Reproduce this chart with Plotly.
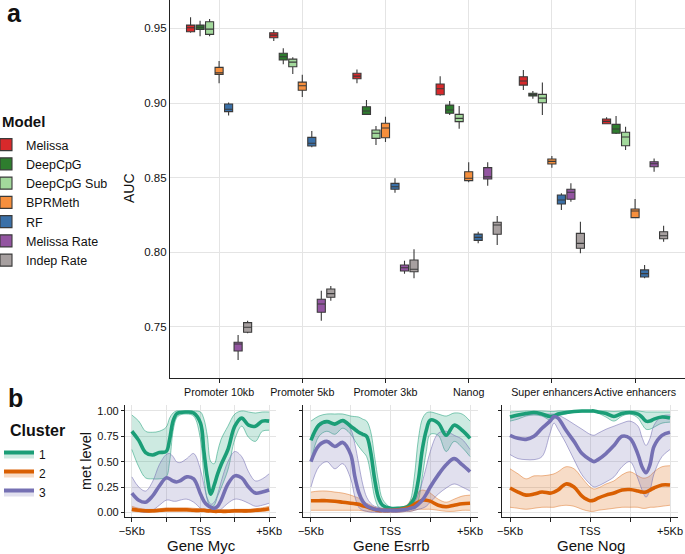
import plotly.graph_objects as go

W, H = 685, 554
FONT = "Liberation Sans, Arial, sans-serif"

# ---------------- panel a : AUC box plots ----------------
CATEGORIES = ["Promoter 10kb", "Promoter 5kb", "Promoter 3kb", "Nanog",
              "Super enhancers", "Active enhancers"]
MODELS = ["Melissa", "DeepCpG", "DeepCpG Sub", "BPRMeth", "RF",
          "Melissa Rate", "Indep Rate"]
MODEL_COLORS = ["#d8292b", "#2e7d2e", "#a3d99c", "#f68f3d", "#3a70a8",
                "#9355a1", "#a7a0a0"]
AUC_TICKS = [0.75, 0.80, 0.85, 0.90, 0.95]

# per category: (lower whisker, q1, median, q3, upper whisker)
MELISSA = [(0.9470, 0.9477, 0.9504, 0.9522, 0.9574),
           (0.9415, 0.9437, 0.9455, 0.9471, 0.9489),
           (0.9132, 0.9163, 0.9180, 0.9199, 0.9225),
           (0.9049, 0.9055, 0.9096, 0.9127, 0.9180),
           (0.9087, 0.9120, 0.9147, 0.9176, 0.9221),
           (0.8857, 0.8861, 0.8877, 0.8893, 0.8904)]
DEEPCPG = [(0.9448, 0.9493, 0.9507, 0.9522, 0.9551),
           (0.9259, 0.9288, 0.9310, 0.9333, 0.9366),
           (0.8920, 0.8924, 0.8946, 0.8975, 0.9020),
           (0.8920, 0.8931, 0.8953, 0.8986, 0.9013),
           (0.9029, 0.9047, 0.9056, 0.9065, 0.9080),
           (0.8792, 0.8797, 0.8826, 0.8857, 0.8913)]
DEEPCPG_SUB = [(0.9448, 0.9460, 0.9495, 0.9544, 0.9562),
               (0.9194, 0.9243, 0.9274, 0.9294, 0.9306),
               (0.8719, 0.8763, 0.8797, 0.8819, 0.8846),
               (0.8828, 0.8875, 0.8897, 0.8924, 0.8980),
               (0.8919, 0.9002, 0.9033, 0.9058, 0.9138),
               (0.8685, 0.8714, 0.8772, 0.8804, 0.8841)]
BPRMETH = [(0.9132, 0.9192, 0.9203, 0.9239, 0.9281),
           (0.9040, 0.9085, 0.9116, 0.9140, 0.9189),
           (0.8739, 0.8767, 0.8833, 0.8864, 0.8908),
           (0.8469, 0.8480, 0.8496, 0.8540, 0.8603),
           (0.8567, 0.8591, 0.8609, 0.8625, 0.8645),
           (0.8228, 0.8232, 0.8277, 0.8290, 0.8357)]
RF = [(0.8917, 0.8942, 0.8958, 0.8993, 0.9004),
      (0.8703, 0.8712, 0.8730, 0.8770, 0.8812),
      (0.8399, 0.8422, 0.8439, 0.8462, 0.8496),
      (0.8060, 0.8080, 0.8100, 0.8122, 0.8138),
      (0.8283, 0.8324, 0.8350, 0.8384, 0.8395),
      (0.7827, 0.7835, 0.7857, 0.7882, 0.7915)]
MELISSA_RATE = [(0.7279, 0.7339, 0.7386, 0.7397, 0.7446),
                (0.7542, 0.7598, 0.7654, 0.7685, 0.7743),
                (0.7857, 0.7875, 0.7897, 0.7915, 0.7944),
                (0.8446, 0.8491, 0.8505, 0.8567, 0.8603),
                (0.8339, 0.8355, 0.8402, 0.8422, 0.8462),
                (0.8540, 0.8573, 0.8593, 0.8607, 0.8629)]
INDEP_RATE = [(0.7457, 0.7464, 0.7498, 0.7529, 0.7542),
              (0.7676, 0.7699, 0.7723, 0.7754, 0.7774),
              (0.7826, 0.7870, 0.7886, 0.7948, 0.8020),
              (0.8049, 0.8121, 0.8183, 0.8201, 0.8243),
              (0.7993, 0.8027, 0.8060, 0.8127, 0.8205),
              (0.8071, 0.8091, 0.8111, 0.8138, 0.8178)]
MODEL_STATS = [MELISSA, DEEPCPG, DEEPCPG_SUB, BPRMETH, RF, MELISSA_RATE, INDEP_RATE]

# ---------------- panel b : methylation profiles ----------------
CLUSTERS = ["1", "2", "3"]
CLUSTER_COLORS = ["#1b9e77", "#d95f02", "#7570b3"]
CLUSTER_FILLS = ["rgba(27,158,119,0.22)", "rgba(217,95,2,0.22)", "rgba(117,112,179,0.22)"]
CLUSTER_EDGES = ["rgba(27,158,119,0.75)", "rgba(217,95,2,0.6)", "rgba(117,112,179,0.8)"]
GENES = ["Gene Myc", "Gene Esrrb", "Gene Nog"]
X_TICKVALS = [-5, -2.5, 0, 2.5, 5]
X_TICKTEXT = ["\u22125Kb", "", "TSS", "", "+5Kb"]
Y_TICKVALS = [0, 0.25, 0.5, 0.75, 1.0]
Y_TICKTEXT = ["0.00", "0.25", "0.50", "0.75", "1.00"]

POS_MYC = [-5, -4.5, -4, -3.5, -3, -2.5, -2.25, -2, -1.75, -1.5, -1, -0.5, 0, 0.25,
           0.5, 0.75, 1, 1.25, 1.5, 2, 2.5, 3, 3.5, 4, 4.5, 5]
MYC_C1_MEAN = [0.80, 0.71, 0.59, 0.565, 0.59, 0.60, 0.72, 0.90, 0.97, 0.985, 0.99, 0.98, 0.88,
               0.60, 0.34, 0.18, 0.27, 0.38, 0.47, 0.62, 0.85, 0.93, 0.86, 0.85, 0.90, 0.90]
MYC_C1_HI = [0.96, 0.90, 0.80, 0.79, 0.80, 0.84, 0.93, 0.98, 1.0, 1.0, 1.0, 1.0, 0.99,
             0.92, 0.75, 0.50, 0.48, 0.60, 0.72, 0.85, 0.97, 1.0, 0.99, 0.98, 0.99, 0.99]
MYC_C1_LO = [0.62, 0.45, 0.34, 0.33, 0.33, 0.35, 0.50, 0.80, 0.93, 0.96, 0.97, 0.95, 0.72,
             0.35, 0.12, 0.05, 0.07, 0.16, 0.24, 0.42, 0.72, 0.85, 0.74, 0.70, 0.80, 0.81]
MYC_C2_MEAN = [0.03, 0.02, 0.015, 0.015, 0.02, 0.025, 0.025, 0.025, 0.025, 0.025, 0.025, 0.02, 0.02,
               0.02, 0.015, 0.015, 0.01, 0.01, 0.01, 0.01, 0.015, 0.015, 0.015, 0.02, 0.025, 0.035]
MYC_C2_HI = [0.06, 0.04, 0.03, 0.03, 0.035, 0.045, 0.045, 0.045, 0.045, 0.045, 0.045, 0.04, 0.035,
             0.035, 0.03, 0.03, 0.025, 0.025, 0.025, 0.025, 0.03, 0.03, 0.03, 0.035, 0.045, 0.06]
MYC_C2_LO = [0.01, 0.005, 0.0, 0.0, 0.005, 0.01, 0.01, 0.01, 0.01, 0.01, 0.01, 0.005, 0.005,
             0.005, 0.0, 0.0, 0.0, 0.0, 0.0, 0.0, 0.0, 0.0, 0.0, 0.005, 0.01, 0.015]
MYC_C3_MEAN = [0.19, 0.12, 0.10, 0.16, 0.26, 0.34, 0.33, 0.31, 0.30, 0.31, 0.35, 0.33, 0.18,
               0.11, 0.07, 0.05, 0.04, 0.06, 0.12, 0.28, 0.36, 0.34, 0.25, 0.19, 0.20, 0.22]
MYC_C3_HI = [0.35, 0.25, 0.21, 0.30, 0.47, 0.57, 0.58, 0.55, 0.50, 0.49, 0.53, 0.58, 0.42,
             0.27, 0.14, 0.08, 0.10, 0.18, 0.30, 0.50, 0.60, 0.55, 0.40, 0.31, 0.33, 0.38]
MYC_C3_LO = [0.04, 0.01, 0.0, 0.02, 0.07, 0.12, 0.12, 0.11, 0.11, 0.12, 0.13, 0.10, 0.04,
             0.02, 0.01, 0.01, 0.0, 0.01, 0.03, 0.09, 0.13, 0.12, 0.09, 0.06, 0.07, 0.09]

POS_ESRRB = [-5, -4.5, -4, -3.5, -3, -2.5, -2.25, -2, -1.75, -1.5, -1.25, -1, -0.75, -0.5,
             0, 0.5, 1, 1.25, 1.5, 1.75, 2, 2.25, 2.5, 3, 3.5, 4, 4.5, 5]
ESRRB_C1_MEAN = [0.71, 0.86, 0.895, 0.87, 0.905, 0.85, 0.82, 0.79, 0.77, 0.75, 0.60, 0.33, 0.14, 0.07,
                 0.04, 0.04, 0.05, 0.08, 0.14, 0.32, 0.62, 0.81, 0.91, 0.88, 0.76, 0.86, 0.81, 0.73]
ESRRB_C1_HI = [0.90, 0.95, 0.97, 0.97, 0.97, 0.95, 0.945, 0.94, 0.92, 0.90, 0.80, 0.55, 0.30, 0.13,
               0.05, 0.05, 0.06, 0.12, 0.35, 0.72, 0.92, 0.98, 0.99, 0.97, 0.95, 0.98, 0.97, 0.90]
ESRRB_C1_LO = [0.50, 0.75, 0.80, 0.77, 0.83, 0.77, 0.71, 0.65, 0.60, 0.55, 0.38, 0.15, 0.05, 0.02,
               0.02, 0.02, 0.02, 0.03, 0.05, 0.12, 0.35, 0.60, 0.77, 0.76, 0.60, 0.70, 0.64, 0.55]
ESRRB_C2_MEAN = [0.115, 0.115, 0.115, 0.11, 0.10, 0.09, 0.085, 0.08, 0.065, 0.055, 0.04, 0.03, 0.02, 0.02,
                 0.02, 0.025, 0.04, 0.055, 0.08, 0.10, 0.12, 0.12, 0.11, 0.07, 0.055, 0.07, 0.085, 0.09]
ESRRB_C2_HI = [0.20, 0.21, 0.21, 0.20, 0.19, 0.17, 0.155, 0.14, 0.11, 0.09, 0.07, 0.05, 0.04, 0.03,
               0.03, 0.04, 0.07, 0.11, 0.16, 0.20, 0.22, 0.21, 0.19, 0.13, 0.10, 0.13, 0.16, 0.17]
ESRRB_C2_LO = [0.02, 0.02, 0.02, 0.02, 0.02, 0.02, 0.02, 0.02, 0.015, 0.01, 0.01, 0.01, 0.0, 0.0,
               0.0, 0.0, 0.01, 0.01, 0.02, 0.03, 0.03, 0.03, 0.03, 0.02, 0.01, 0.01, 0.02, 0.02]
ESRRB_C3_MEAN = [0.50, 0.66, 0.70, 0.65, 0.69, 0.57, 0.36, 0.20, 0.11, 0.065, 0.045, 0.03, 0.025, 0.02,
                 0.02, 0.02, 0.03, 0.04, 0.05, 0.08, 0.12, 0.18, 0.25, 0.37, 0.47, 0.53, 0.47, 0.40]
ESRRB_C3_HI = [0.72, 0.88, 0.90, 0.88, 0.90, 0.82, 0.68, 0.48, 0.28, 0.15, 0.09, 0.06, 0.05, 0.04,
               0.04, 0.04, 0.05, 0.07, 0.10, 0.18, 0.30, 0.45, 0.60, 0.78, 0.80, 0.76, 0.72, 0.62]
ESRRB_C3_LO = [0.25, 0.45, 0.50, 0.43, 0.48, 0.33, 0.16, 0.05, 0.02, 0.01, 0.0, 0.0, 0.0, 0.0,
               0.0, 0.0, 0.01, 0.01, 0.02, 0.03, 0.04, 0.06, 0.10, 0.18, 0.24, 0.28, 0.25, 0.21]

POS_NOG = [-5, -4.5, -4, -3.5, -3, -2.5, -2.25, -2, -1.5, -1, -0.5, 0, 0.25, 0.5, 1, 1.5,
           2, 2.5, 3, 3.25, 3.5, 3.75, 4, 4.5, 5]
NOG_C1_MEAN = [0.94, 0.96, 0.975, 0.985, 0.97, 0.945, 0.95, 0.97, 0.985, 0.995, 1.0, 1.0, 1.0,
               0.99, 0.975, 0.945, 0.975, 0.985, 0.97, 0.94, 0.90, 0.90, 0.92, 0.94, 0.93]
NOG_C1_HI = [0.99, 0.995, 1.0, 1.0, 1.0, 0.995, 0.995, 1.0, 1.0, 1.0, 1.0, 1.0, 1.0,
             1.0, 1.0, 0.995, 1.0, 1.0, 1.0, 0.995, 0.99, 0.99, 0.99, 0.99, 0.99]
NOG_C1_LO = [0.90, 0.92, 0.95, 0.96, 0.95, 0.91, 0.92, 0.95, 0.97, 0.99, 0.99, 0.99, 0.99,
             0.98, 0.94, 0.90, 0.95, 0.97, 0.93, 0.87, 0.82, 0.82, 0.84, 0.88, 0.89]
NOG_C2_MEAN = [0.24, 0.20, 0.17, 0.18, 0.20, 0.19, 0.20, 0.22, 0.28, 0.25, 0.16, 0.115, 0.12,
               0.14, 0.17, 0.19, 0.22, 0.225, 0.21, 0.20, 0.20, 0.22, 0.24, 0.27, 0.27]
NOG_C2_HI = [0.43, 0.38, 0.33, 0.36, 0.36, 0.37, 0.38, 0.40, 0.45, 0.43, 0.34, 0.25, 0.23,
             0.24, 0.28, 0.31, 0.37, 0.40, 0.36, 0.34, 0.34, 0.36, 0.40, 0.45, 0.46]
NOG_C2_LO = [0.05, 0.04, 0.03, 0.04, 0.05, 0.05, 0.05, 0.06, 0.07, 0.06, 0.03, 0.01, 0.01,
             0.02, 0.03, 0.04, 0.05, 0.05, 0.05, 0.04, 0.04, 0.05, 0.05, 0.06, 0.07]
NOG_C3_MEAN = [0.76, 0.73, 0.72, 0.75, 0.83, 0.90, 0.945, 0.93, 0.81, 0.70, 0.58, 0.52, 0.50,
               0.52, 0.58, 0.66, 0.75, 0.73, 0.57, 0.45, 0.39, 0.47, 0.65, 0.76, 0.79]
NOG_C3_HI = [0.94, 0.95, 0.96, 0.97, 0.97, 0.97, 0.97, 0.96, 0.92, 0.87, 0.82, 0.77, 0.76,
             0.78, 0.82, 0.85, 0.88, 0.90, 0.85, 0.74, 0.66, 0.73, 0.86, 0.95, 0.96]
NOG_C3_LO = [0.57, 0.53, 0.52, 0.52, 0.55, 0.78, 0.88, 0.82, 0.68, 0.52, 0.37, 0.28, 0.25,
             0.26, 0.30, 0.35, 0.45, 0.50, 0.33, 0.22, 0.15, 0.22, 0.38, 0.55, 0.62]

PANELS = [
    (POS_MYC, [(MYC_C1_MEAN, MYC_C1_LO, MYC_C1_HI), (MYC_C2_MEAN, MYC_C2_LO, MYC_C2_HI),
               (MYC_C3_MEAN, MYC_C3_LO, MYC_C3_HI)]),
    (POS_ESRRB, [(ESRRB_C1_MEAN, ESRRB_C1_LO, ESRRB_C1_HI), (ESRRB_C2_MEAN, ESRRB_C2_LO, ESRRB_C2_HI),
                 (ESRRB_C3_MEAN, ESRRB_C3_LO, ESRRB_C3_HI)]),
    (POS_NOG, [(NOG_C1_MEAN, NOG_C1_LO, NOG_C1_HI), (NOG_C2_MEAN, NOG_C2_LO, NOG_C2_HI),
               (NOG_C3_MEAN, NOG_C3_LO, NOG_C3_HI)]),
]


def fx(px):
    return px / W


def fy(py):
    return 1 - py / H


fig = go.Figure()

# ---- boxes ----
for name, color, stats in zip(MODELS, MODEL_COLORS, MODEL_STATS):
    fig.add_trace(go.Box(
        x=CATEGORIES,
        lowerfence=[s[0] for s in stats],
        q1=[s[1] for s in stats],
        median=[s[2] for s in stats],
        q3=[s[3] for s in stats],
        upperfence=[s[4] for s in stats],
        name=name, fillcolor=color,
        line=dict(color="#3a3a3a", width=1.1),
        whiskerwidth=0, boxpoints=False, hoverinfo="skip",
        xaxis="x", yaxis="y", legend="legend",
    ))

# ---- profile panels ----
for p, (pos, series) in enumerate(PANELS):
    xa = "x%d" % (p + 2)
    ya = "y%d" % (p + 2)
    for c, (mean, lo, hi) in enumerate(series):
        fig.add_trace(go.Scatter(x=pos, y=lo, mode="lines", line=dict(color=CLUSTER_EDGES[c], width=0.7, shape="spline"),
                                 showlegend=False, hoverinfo="skip", xaxis=xa, yaxis=ya))
        fig.add_trace(go.Scatter(x=pos, y=hi, mode="lines", fill="tonexty", fillcolor=CLUSTER_FILLS[c],
                                 line=dict(color=CLUSTER_EDGES[c], width=0.7, shape="spline"),
                                 showlegend=False, hoverinfo="skip", xaxis=xa, yaxis=ya))
    for c, (mean, lo, hi) in enumerate(series):
        fig.add_trace(go.Scatter(x=pos, y=mean, mode="lines", line=dict(color=CLUSTER_COLORS[c], width=3.6, shape="spline"),
                                 showlegend=False, hoverinfo="skip", xaxis=xa, yaxis=ya))

# legend entries for clusters
for c, name in enumerate(CLUSTERS):
    fig.add_trace(go.Scatter(x=[None], y=[None], mode="lines", fill="toself", fillcolor=CLUSTER_FILLS[c],
                             line=dict(color=CLUSTER_COLORS[c], width=4), name=name,
                             xaxis="x2", yaxis="y2", legend="legend2"))

axis_common = dict(showline=True, linecolor="#222222", linewidth=1.2, gridcolor="#e4e4e4", gridwidth=1,
                   zeroline=False, tickcolor="#222222", fixedrange=True)

layout = dict(
    width=W, height=H,
    margin=dict(l=0, r=0, t=0, b=0, autoexpand=False),
    paper_bgcolor="white", plot_bgcolor="white",
    font=dict(family=FONT, color="#111111"),
    boxmode="group", boxgap=0.2, boxgroupgap=0.15,
    showlegend=True,
    xaxis=dict(axis_common, domain=[fx(170), 1.0], anchor="y", type="category",
               categoryorder="array", categoryarray=CATEGORIES, range=[-0.59, 5.6],
               ticks="outside", ticklen=4, tickangle=0, tickfont=dict(size=10.7)),
    yaxis=dict(axis_common, domain=[fy(378), 1.0], anchor="x", range=[0.7158, 0.969],
               tickvals=AUC_TICKS, ticktext=["%.2f" % v for v in AUC_TICKS], ticks="",
               tickfont=dict(size=11.5)),
    legend=dict(x=fx(-14), y=fy(130), xanchor="left", yanchor="top", font=dict(size=12.5),
                bgcolor="rgba(0,0,0,0)", tracegroupgap=0, traceorder="normal"),
    legend2=dict(x=fx(-1), y=fy(440), xanchor="left", yanchor="top", font=dict(size=12),
                 bgcolor="rgba(0,0,0,0)", tracegroupgap=0, traceorder="normal"),
)

px_domains = [(125, 276), (303, 478), (502, 678)]
for p, (x0, x1) in enumerate(px_domains):
    k = p + 2
    layout["xaxis%d" % k] = dict(axis_common, domain=[fx(x0), fx(x1)], anchor="y%d" % k, range=[-5.5, 5.5],
                                 tickvals=X_TICKVALS, ticktext=X_TICKTEXT, ticks="outside", ticklen=4,
                                 tickangle=0, tickfont=dict(size=11))
    layout["yaxis%d" % k] = dict(axis_common, domain=[fy(517), fy(405)], anchor="x%d" % k, range=[-0.046, 1.059],
                                 tickvals=Y_TICKVALS, ticktext=Y_TICKTEXT, ticks="outside", ticklen=3,
                                 showticklabels=(p == 0), tickfont=dict(size=11))

fig.update_layout(**layout)

ann = [
    dict(text="<b>a</b>", x=fx(5), y=fy(13), xanchor="left", yanchor="middle", font=dict(size=25)),
    dict(text="<b>b</b>", x=fx(6), y=fy(398), xanchor="left", yanchor="middle", font=dict(size=25)),
    dict(text="<b>Model</b>", x=fx(0), y=fy(121.7), xanchor="left", yanchor="middle", font=dict(size=15)),
    dict(text="<b>Cluster</b>", x=fx(8), y=fy(430.7), xanchor="left", yanchor="middle", font=dict(size=16)),
    dict(text="AUC", x=fx(129), y=fy(188), xanchor="center", yanchor="middle", textangle=-90, font=dict(size=14)),
    dict(text="met level", x=fx(86), y=fy(461), xanchor="center", yanchor="middle", textangle=-90,
         font=dict(size=14.5)),
]
for gname, cx in zip(GENES, [201, 391, 591]):
    ann.append(dict(text=gname, x=fx(cx), y=fy(545), xanchor="center", yanchor="middle", font=dict(size=15)))
for a in ann:
    a.update(xref="paper", yref="paper", showarrow=False)
fig.update_layout(annotations=ann)

fig.write_html("out.html", config={"displayModeBar": False},
               post_script="document.body.style.margin='0px';document.body.style.overflow='hidden';")
